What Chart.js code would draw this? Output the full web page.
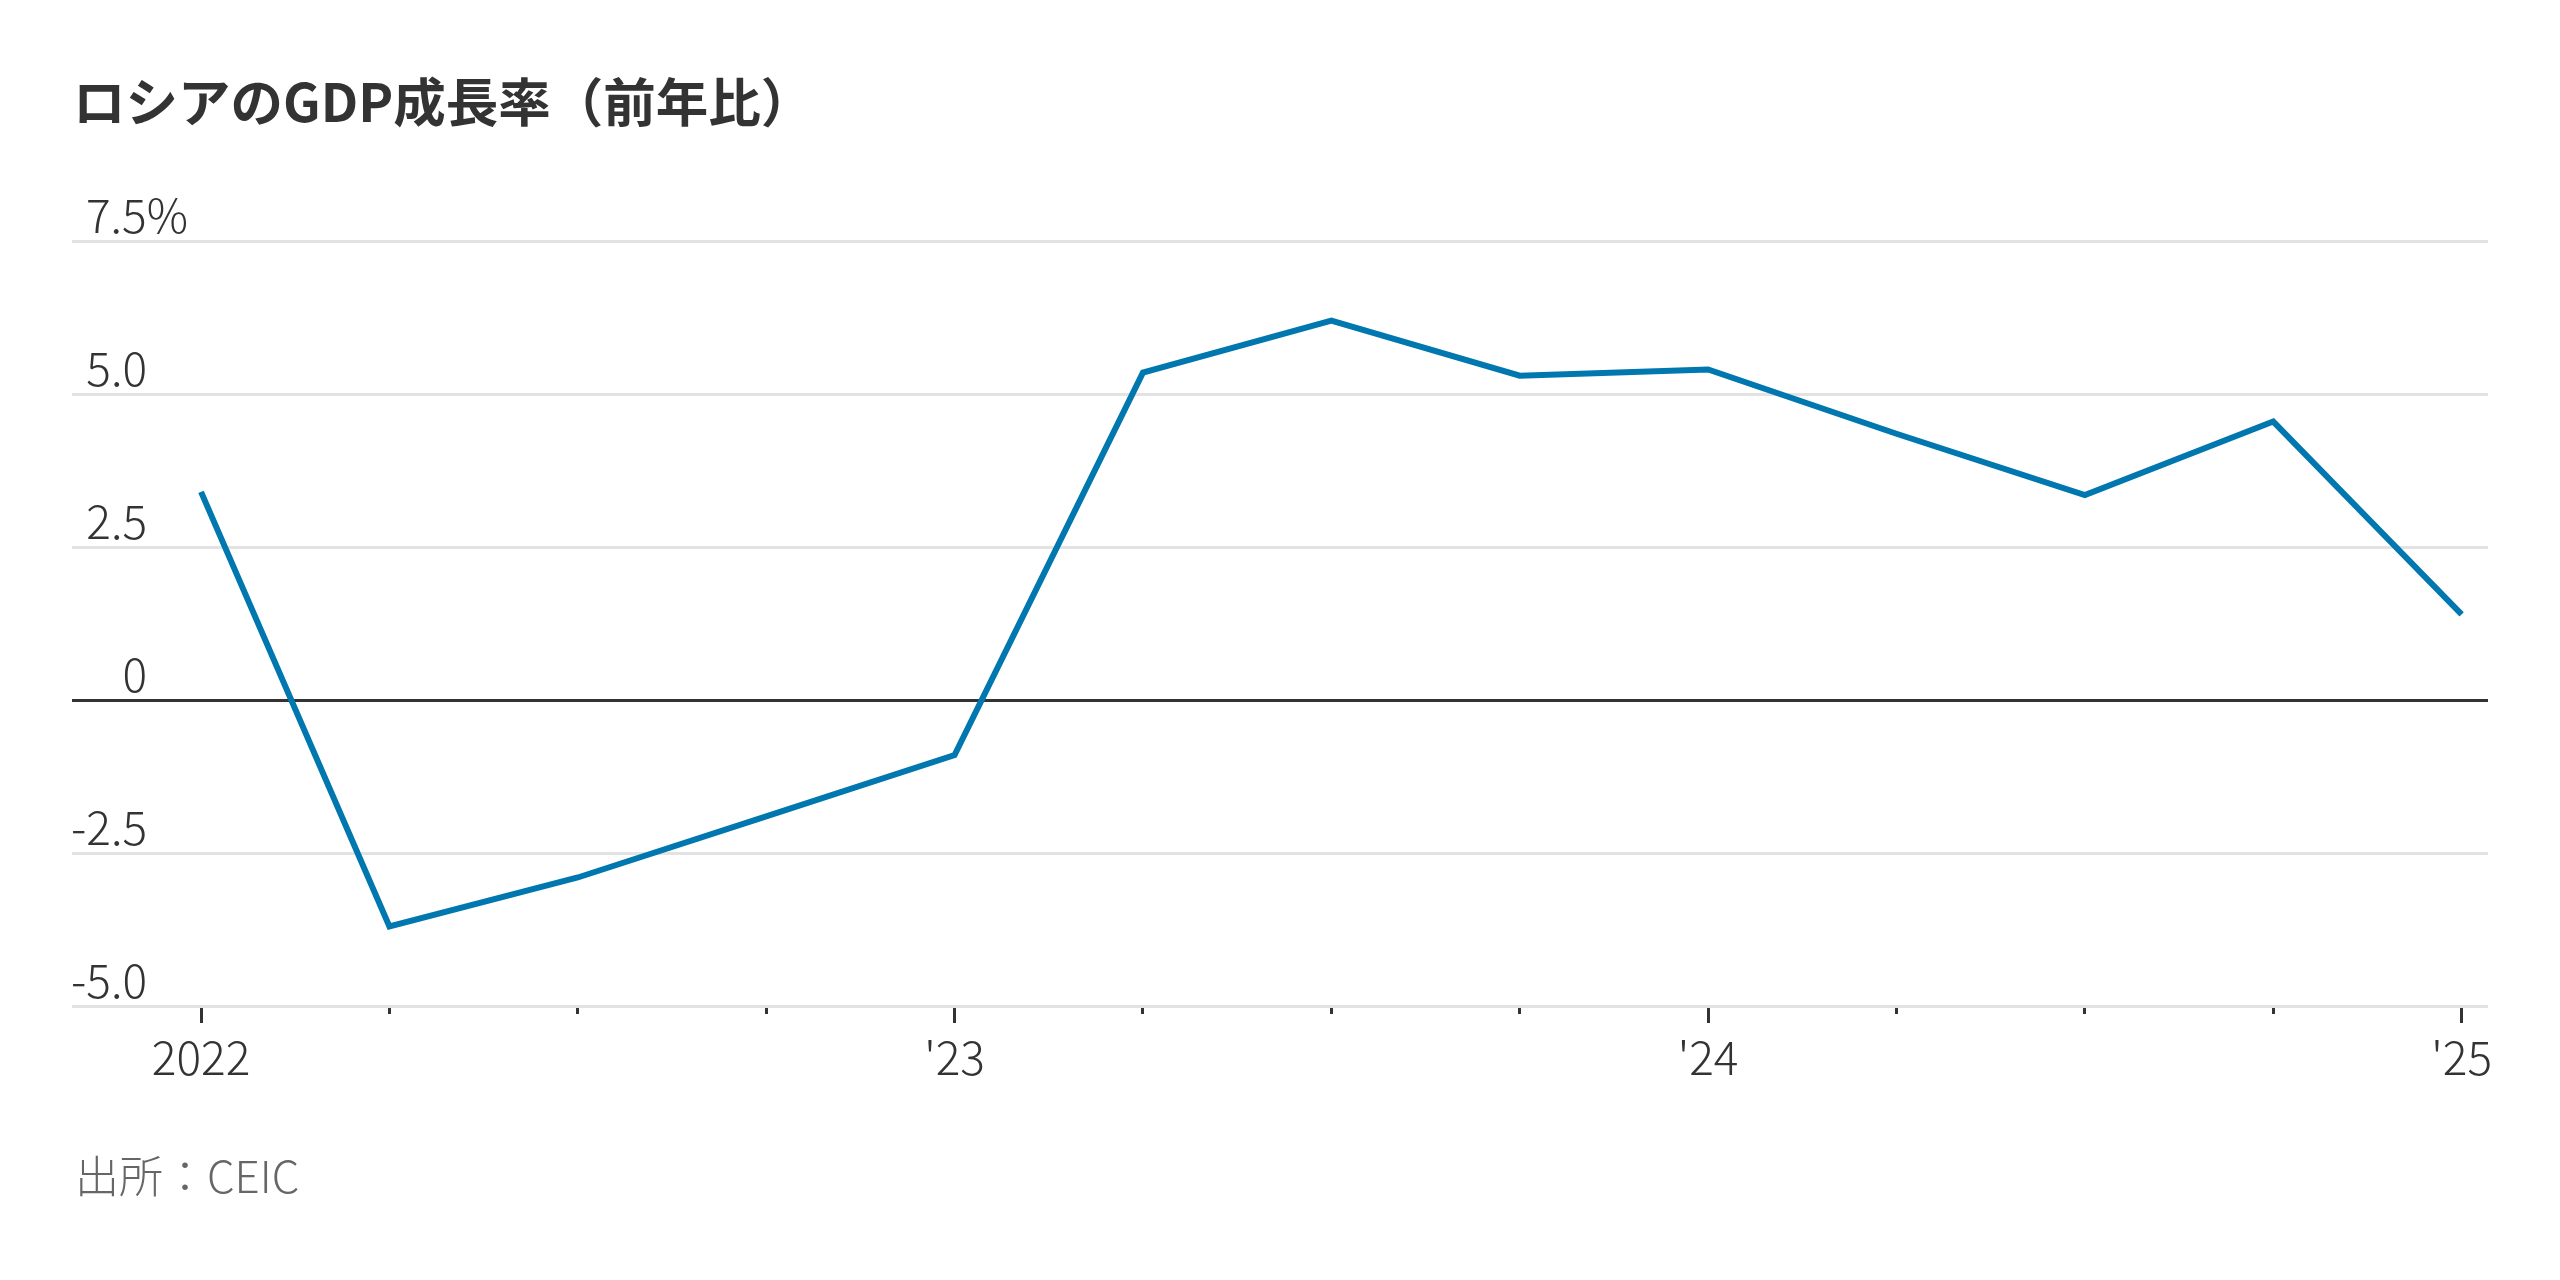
<!DOCTYPE html>
<html>
<head>
<meta charset="utf-8">
<script src="https://cdn.jsdelivr.net/npm/chart.js@4"></script>
<style>
  html, body { margin: 0; padding: 0; background: #fff; }
  body { width: 2560px; height: 1280px; position: relative; overflow: hidden; font-family: "Noto Sans CJK JP", "Noto Sans", sans-serif; }
  #title { position: absolute; left: 73px; top: 68px; font-size: 52.5px; font-weight: 700; color: #333; line-height: 1.2; }
  #source { position: absolute; left: 75px; top: 1148px; font-size: 44px; font-weight: 300; color: #666; line-height: 1.2; }
  #wrap { position: absolute; left: 0; top: 0; width: 2560px; height: 1280px; }
</style>
</head>
<body>
<div id="wrap"><canvas id="gdp-chart"></canvas></div>
<div id="title">ロシアのGDP成長率（前年比）</div>
<div id="source">出所：CEIC</div>
<script>
// quarterly data, Q1 2022 .. Q1 2025
const quarters = ['2022 Q1', '2022 Q2', '2022 Q3', '2022 Q4', '2023 Q1', '2023 Q2', '2023 Q3', '2023 Q4',
  '2024 Q1', '2024 Q2', '2024 Q3', '2024 Q4', '2025 Q1'];
const gdpGrowth = [3.4, -3.7, -2.9, -1.9, -0.9, 5.35, 6.2, 5.3, 5.4, 4.35, 3.35, 4.55, 1.4];
const xTickLabels = ['2022', '', '', '', "'23", '', '', '', "'24", '', '', '', "'25"];
const yTicks = [-5, -2.5, 0, 2.5, 5, 7.5];

const lineColor = '#0077af';
const tickFont = { family: '"Noto Sans CJK JP", "Noto Sans", sans-serif', size: 46, weight: 300 };

const data = {
  datasets: [{
    label: 'GDP',
    data: gdpGrowth.map((v, i) => ({ x: i, y: v })),
    borderColor: lineColor,
    borderWidth: 6,
    pointRadius: 0,
    tension: 0,
    fill: false,
  }]
};

const yLabel = (v) => {
  if (v === 0) return '0';
  return v.toFixed(1);
};

const config = {
  type: 'line',
  data: data,
  options: {
    responsive: false,
    animation: false,
    layout: {
      padding: { left: 72, right: 72, top: 241, bottom: 194 }
    },
    plugins: {
      legend: { display: false },
      tooltip: { enabled: false },
    },
    scales: {
      x: {
        type: 'linear',
        min: -0.685,
        max: 12.14,
        afterFit: (s) => { s.height = 80; },
        border: { display: false },
        grid: {
          drawOnChartArea: false,
          drawTicks: true,
          tickLength: 17,
          tickWidth: 3,
          tickColor: '#333',
          tickBorderDash: (ctx) => (ctx.tick && ctx.tick.value % 4 === 0) ? [] : [8, 100],
        },
        ticks: {
          stepSize: 1,
          includeBounds: false,
          autoSkip: false,
          maxRotation: 0,
          padding: 7,
          color: '#333',
          font: tickFont,
          callback: (v) => xTickLabels[v] !== undefined ? xTickLabels[v] : '',
        }
      },
      // main value axis: grid lines + right-aligned numbers
      y: {
        min: -5,
        max: 7.5,
        afterFit: (s) => { s.width = 0; },
        afterBuildTicks: (s) => { s.ticks = yTicks.map(v => ({ value: v })); },
        border: { display: false },
        grid: {
          drawTicks: false,
          lineWidth: 3,
          color: (ctx) => (ctx.tick && ctx.tick.value === 0) ? '#333' : '#e3e3e3',
        },
        ticks: {
          mirror: true,
          crossAlign: 'far',
          padding: -1,
          labelOffset: -25,
          color: '#333',
          font: tickFont,
          callback: (v) => v === 7.5 ? '' : yLabel(v),
        }
      },
      // top label with unit, left aligned like the numbers below it
      yUnit: {
        position: 'left',
        min: -5,
        max: 7.5,
        afterFit: (s) => { s.width = 0; },
        afterBuildTicks: (s) => { s.ticks = [{ value: 7.5 }]; },
        border: { display: false },
        grid: { display: false, drawTicks: false },
        ticks: {
          mirror: true,
          crossAlign: 'near',
          padding: 14,
          labelOffset: -25,
          color: '#333',
          font: tickFont,
          callback: (v) => yLabel(v) + '%',
        }
      }
    }
  }
};

const cvs = document.getElementById('gdp-chart');
cvs.width = 2560;
cvs.height = 1280;
const ctx = cvs.getContext('2d');
const chart = new Chart(ctx, config);
</script>
</body>
</html>
